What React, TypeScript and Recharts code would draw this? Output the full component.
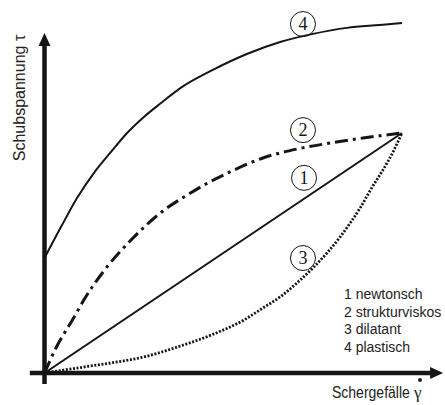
import React from "react";
import { LineChart, Line, XAxis, YAxis, ReferenceLine, ReferenceDot } from "recharts";

if (typeof document !== "undefined") document.body.style.margin = "0";

// 1 newtonsch (straight line)
const newtonX = [0, 10];
const newtonY = [0, 10];

// 2 strukturviskos
const strukturX = [0, 0.32, 0.83, 1.1, 1.66, 2.42, 3.43, 3.9, 4.57, 5.19, 6.11, 7.06, 7.99, 8.91, 10];
const strukturY = [0, 1.04, 2.33, 3.04, 4.25, 5.54, 6.88, 7.33, 7.92, 8.38, 8.96, 9.33, 9.58, 9.79, 10];

// 3 dilatant
const dilatantX = [0, 1.1, 1.86, 2.78, 3.71, 4.66, 5.58, 6.11, 6.59, 7.06, 7.51, 7.9, 8.27, 8.55, 8.83, 9.1, 9.75, 10];
const dilatantY = [0, 0.25, 0.42, 0.67, 1.08, 1.58, 2.21, 2.71, 3.17, 3.75, 4.38, 5.0, 5.67, 6.25, 6.88, 7.58, 9.21, 10];

// 4 plastisch
const plastischX = [0, 0.46, 0.91, 1.38, 1.86, 2.31, 2.78, 3.26, 3.85, 4.71, 5.66, 6.59, 7.51, 8.46, 9.38, 10];
const plastischY = [4.79, 6.08, 7.29, 8.33, 9.21, 10.0, 10.67, 11.25, 11.92, 12.63, 13.29, 13.79, 14.13, 14.38, 14.5, 14.58];

// circled curve numbers
const markLabels = ["4", "2", "1", "3"];
const markX = [7.23, 7.23, 7.26, 7.23];
const markY = [14.54, 10.12, 8.13, 4.79];

const legendLines = ["1 newtonsch", "2 strukturviskos", "3 dilatant", "4 plastisch"];

const toPts = (xs: number[], ys: number[]) => xs.map((x, i) => ({ x, y: ys[i] }));

const INK = "#151515";

// axis line with arrow head at the second point
const ArrowShape = (props: any) => {
  const { x1, y1, x2, y2 } = props;
  const dx = x2 - x1;
  const dy = y2 - y1;
  const len = Math.sqrt(dx * dx + dy * dy) || 1;
  const ux = dx / len;
  const uy = dy / len;
  const head = 13;
  const half = 6;
  const bx = x2 - ux * head;
  const by = y2 - uy * head;
  const pts = `${x2},${y2} ${bx - uy * half},${by + ux * half} ${bx + uy * half},${by - ux * half}`;
  return (
    <g>
      <line x1={x1} y1={y1} x2={bx + ux} y2={by + uy} stroke={INK} strokeWidth={4.5} />
      <polygon points={pts} fill={INK} />
    </g>
  );
};

const CircleMark = (label: string) => (props: any) => {
  const { cx, cy } = props;
  return (
    <g>
      <circle cx={cx} cy={cy} r={12.5} fill="none" stroke={INK} strokeWidth={1} />
      <text
        x={cx}
        y={cy + 6}
        textAnchor="middle"
        fontFamily="'Liberation Serif', serif"
        fontSize={18}
        fill={INK}
      >
        {label}
      </text>
    </g>
  );
};

const sans = "'Liberation Sans', Arial, sans-serif";

export default function App() {
  return (
    <div style={{ position: "relative", width: 445, height: 405, background: "#fff", overflow: "hidden" }}>
      <LineChart width={445} height={405} margin={{ top: 13, right: 7.25, bottom: 32, left: 44.5 }}>
        <XAxis type="number" dataKey="x" domain={[0, 11]} hide allowDataOverflow />
        <YAxis type="number" dataKey="y" domain={[0, 15]} hide allowDataOverflow />
        <Line
          data={toPts(newtonX, newtonY)}
          dataKey="y"
          type="linear"
          stroke={INK}
          strokeWidth={2}
          dot={false}
          isAnimationActive={false}
        />
        <Line
          data={toPts(strukturX, strukturY)}
          dataKey="y"
          type="monotone"
          stroke={INK}
          strokeWidth={3}
          strokeDasharray="13 5 3 5"
          dot={false}
          isAnimationActive={false}
        />
        <Line
          data={toPts(dilatantX, dilatantY)}
          dataKey="y"
          type="monotone"
          stroke={INK}
          strokeWidth={2.8}
          strokeDasharray="2 1.6"
          dot={false}
          isAnimationActive={false}
        />
        <Line
          data={toPts(plastischX, plastischY)}
          dataKey="y"
          type="monotone"
          stroke={INK}
          strokeWidth={2}
          dot={false}
          isAnimationActive={false}
        />
        <ReferenceLine
          segment={[{ x: 0, y: -0.46 }, { x: 0, y: 14.17 }]}
          ifOverflow="visible"
          shape={ArrowShape}
        />
        <ReferenceLine
          segment={[{ x: -0.41, y: 0 }, { x: 11.15, y: 0 }]}
          ifOverflow="visible"
          shape={ArrowShape}
        />
        {markLabels.map((m, i) => (
          <ReferenceDot key={m} x={markX[i]} y={markY[i]} ifOverflow="visible" shape={CircleMark(m)} />
        ))}
      </LineChart>

      <div
        style={{
          position: "absolute",
          left: 20,
          top: 98,
          transform: "translate(-50%, -50%) rotate(-90deg)",
          fontFamily: sans,
          fontSize: 16,
          color: "#222",
          whiteSpace: "nowrap",
        }}
      >
        Schubspannung τ
      </div>
      <div
        style={{
          position: "absolute",
          left: 332,
          top: 385,
          fontFamily: sans,
          fontSize: 14,
          lineHeight: "18px",
          color: "#222",
          whiteSpace: "nowrap",
          transform: "scaleY(1.2)",
          transformOrigin: "left bottom",
        }}
      >
        Schergefälle
      </div>
      <div
        style={{
          position: "absolute",
          left: 414,
          top: 384,
          fontFamily: "'Liberation Serif', serif",
          fontSize: 17,
          lineHeight: "18px",
          color: "#222",
        }}
      >
        γ
      </div>
      {/* dot over gamma */}
      <div
        style={{
          position: "absolute",
          left: 418,
          top: 378,
          width: 3.5,
          height: 3.5,
          borderRadius: 2,
          background: "#222",
        }}
      />
      <div
        style={{
          position: "absolute",
          left: 344,
          top: 286,
          fontFamily: sans,
          fontSize: 14,
          lineHeight: "17.5px",
          color: "#222",
          whiteSpace: "nowrap",
        }}
      >
        {legendLines.map((t) => (
          <div key={t}>{t}</div>
        ))}
      </div>
    </div>
  );
}
